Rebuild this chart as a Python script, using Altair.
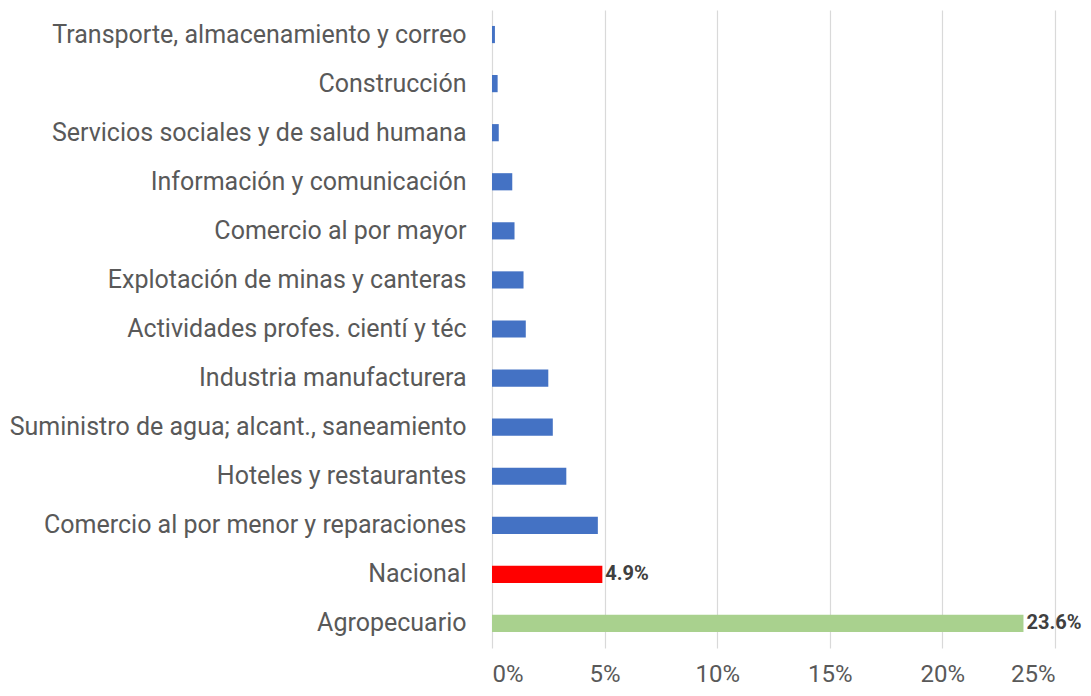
import altair as alt
import pandas as pd

categories = [
    "Transporte, almacenamiento y correo",
    "Construcción",
    "Servicios sociales y de salud humana",
    "Información y comunicación",
    "Comercio al por mayor",
    "Explotación de minas y canteras",
    "Actividades profes. cientí y téc",
    "Industria manufacturera",
    "Suministro de agua; alcant.,  saneamiento",
    "Hoteles y restaurantes",
    "Comercio al por menor y reparaciones",
    "Nacional",
    "Agropecuario",
]
values = [0.0013, 0.0025, 0.003, 0.009, 0.010, 0.014, 0.015, 0.025, 0.027, 0.033, 0.047, 0.049, 0.236]
colors = ["#4472C4"] * 11 + ["#FF0000", "#A9D18E"]
labels = [""] * 11 + ["4.9%", "23.6%"]

df = pd.DataFrame({"cat": categories, "val": values, "color": colors, "label": labels})

FONT = "Roboto"

base = alt.Chart(df).encode(
    y=alt.Y("cat:N", sort=categories, title=None,
            scale=alt.Scale(paddingInner=0.65, paddingOuter=0.325),
            axis=alt.Axis(labelFontSize=25, labelColor="#595959", labelFont=FONT,
                          labelPadding=26, ticks=False, domain=False, labelLimit=600)),
)

bars = base.mark_bar().encode(
    x=alt.X("val:Q", title=None,
            scale=alt.Scale(domain=[0, 0.25], nice=False),
            axis=alt.Axis(values=[0, 0.05, 0.10, 0.15, 0.20, 0.25], format=".0%",
                          labelFontSize=24, labelColor="#595959", labelFont=FONT,
                          labelBaseline="alphabetic",
                          labelPadding=33, ticks=False, domain=False,
                          gridColor="#D9D9D9", gridWidth=1.2)),
    color=alt.Color("color:N", scale=None),
)

text = base.transform_filter(alt.datum.label != "").mark_text(
    align="left", baseline="middle", dx=3, fontSize=20, fontWeight="bold",
    color="#404040", font=FONT,
).encode(x="val:Q", text="label:N")

chart = (bars + text).properties(
    width=563, height=638,
    autosize=alt.AutoSizeParams(type="none"),
    padding={"left": 484, "top": 2, "right": 28, "bottom": 40},
).configure_view(stroke=None).configure_axis(grid=True)

chart = chart.configure_axisY(grid=False)

chart.save("out.html", embed_options={"renderer": "svg", "actions": False})
